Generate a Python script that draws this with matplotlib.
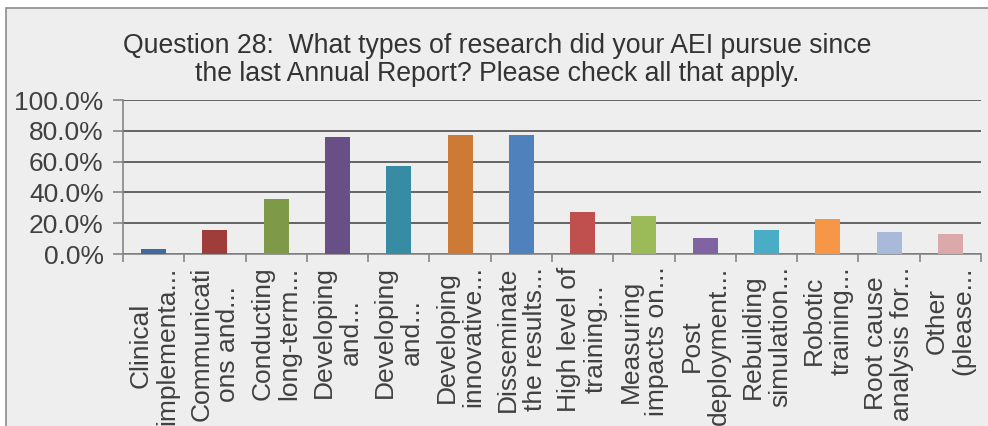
import matplotlib.pyplot as plt
from matplotlib.patches import Rectangle
from matplotlib.ticker import FixedLocator, PercentFormatter, NullFormatter

# Data
categories = [
    "Clinical\nimplementa...",
    "Communicati\nons and...",
    "Conducting\nlong-term...",
    "Developing\nand...",
    "Developing\nand...",
    "Developing\ninnovative...",
    "Disseminate\nthe results...",
    "High level of\ntraining...",
    "Measuring\nimpacts on...",
    "Post\ndeployment...",
    "Rebuilding\nsimulation...",
    "Robotic\ntraining...",
    "Root cause\nanalysis for...",
    "Other\n(please...",
]
percents = [3.2, 15.6, 35.7, 76.0, 57.1, 77.3, 77.3, 27.3, 24.7, 10.4, 15.6, 22.7, 14.3, 13.0]
colors = ["#3E6A9F", "#9E3D3A", "#7E9A48", "#684F86", "#378BA3", "#CE7A37", "#4F81BD",
          "#C0504D", "#9BBB59", "#8064A2", "#4BACC6", "#F79646", "#A9B9D9", "#DBA9A9"]

title = "Question 28:  What types of research did your AEI pursue since\nthe last Annual Report? Please check all that apply."

plt.rcParams['font.family'] = ['Liberation Sans', 'DejaVu Sans']
txt_color = "#333333"

fig = plt.figure(figsize=(9.88, 4.26), dpi=100)
fig.patch.set_facecolor("white")

# chart area background + border
fig.patches.append(Rectangle((6 / 988, -0.05), 1.0, 1 - 8 / 426 + 0.05, transform=fig.transFigure,
                             facecolor="#EEEEEE", edgecolor="#8C8C8C", linewidth=1.2, zorder=-10))

ax = fig.add_axes([123 / 988, 1 - 254 / 426, (981 - 123) / 988, (254 - 100) / 426])
ax.patch.set_visible(False)

x = list(range(len(categories)))
ax.bar(x, percents, width=0.41, color=colors, zorder=3)

ax.set_xlim(-0.5, len(categories) - 0.5)
ax.set_ylim(0, 100)
ax.yaxis.set_major_locator(FixedLocator([0, 20, 40, 60, 80, 100]))
ax.yaxis.set_major_formatter(PercentFormatter(decimals=1))
ax.grid(axis='y', color="#595959", linewidth=1.3, zorder=1)

# category boundaries as ticks, labels at centers
ax.xaxis.set_major_locator(FixedLocator([i - 0.5 for i in range(len(categories) + 1)]))
ax.xaxis.set_major_formatter(NullFormatter())
ax.xaxis.set_minor_locator(FixedLocator(x))
ax.set_xticklabels(categories, minor=True, rotation=90, ha='center', va='top',
                   multialignment='center', fontsize=19, color="#404040", linespacing=1.15)
ax.tick_params(axis='x', which='minor', length=0, pad=9)
ax.tick_params(axis='x', which='major', length=6, color="#868686", width=1.2)
ax.tick_params(axis='y', length=7, color="#868686", width=1.2, labelsize=19,
               labelcolor="#404040", pad=7)

for side in ['top', 'right']:
    ax.spines[side].set_visible(False)
for side in ['left', 'bottom']:
    ax.spines[side].set_color("#868686")
    ax.spines[side].set_linewidth(1.2)

fig.text(497 / 988, 1 - 60 / 426, title, ha='center', va='center', fontsize=19.2,
         color=txt_color, linespacing=1.1)

fig.savefig("out.png", dpi=100)
